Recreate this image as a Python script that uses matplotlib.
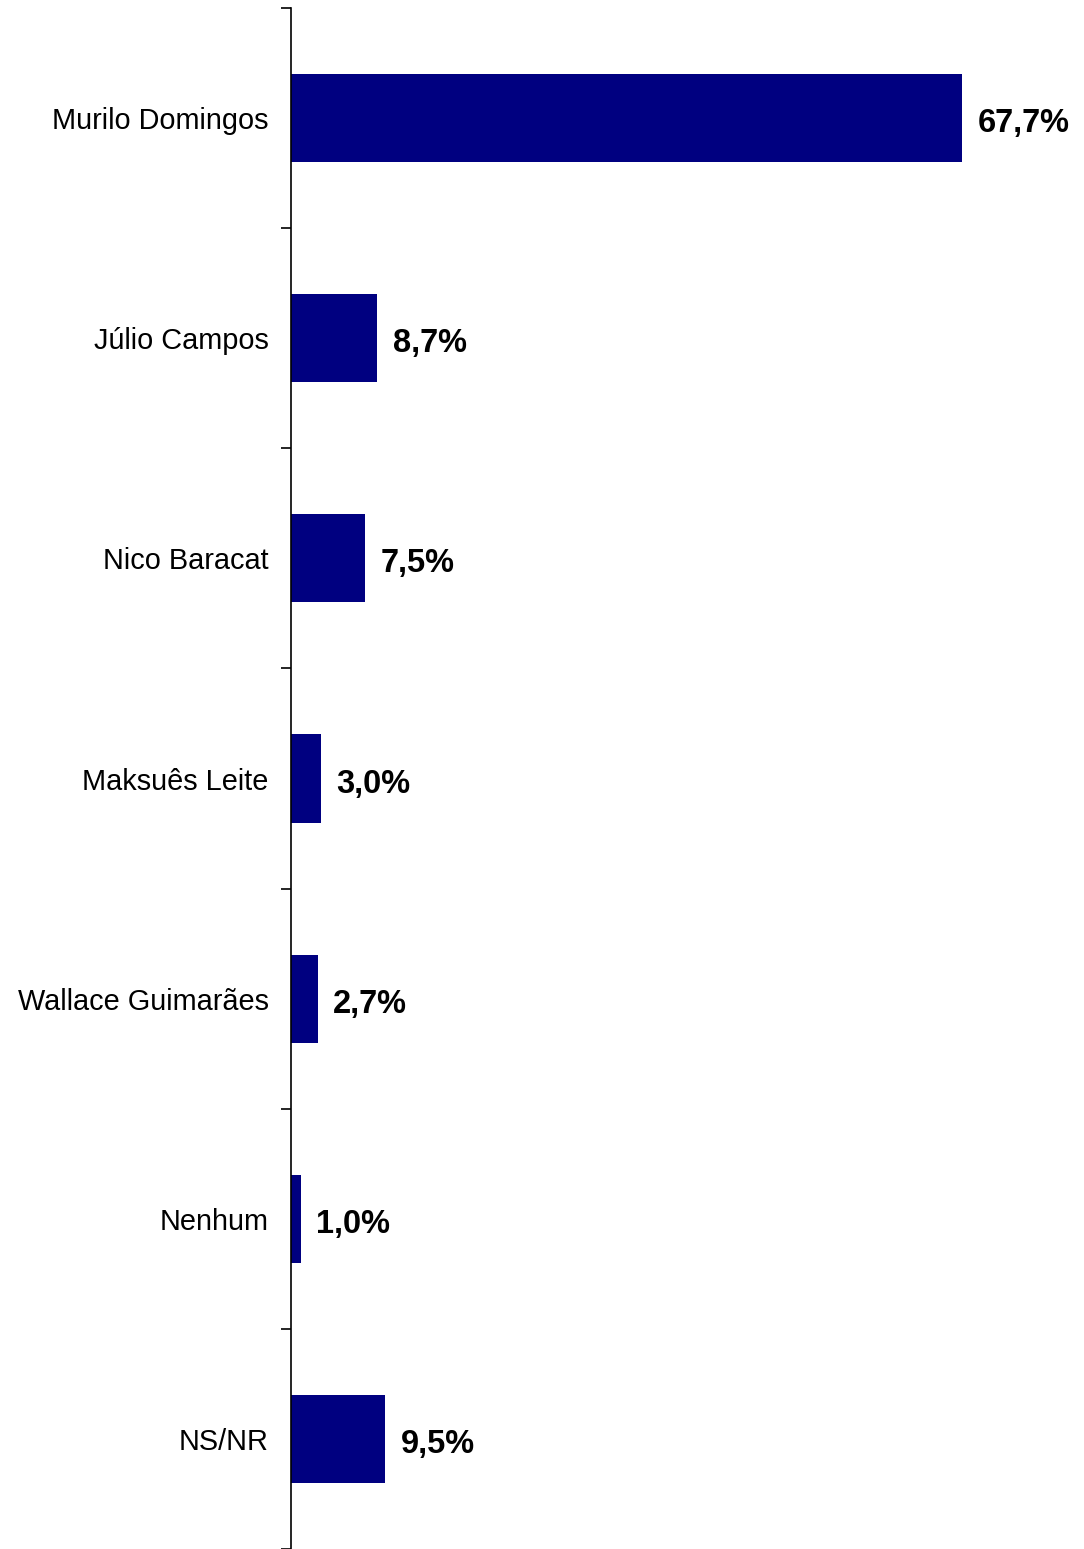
import numpy as np
import matplotlib.pyplot as plt

plt.rcParams['font.family'] = ['Liberation Sans', 'DejaVu Sans']

candidates = ['Murilo Domingos', 'Júlio Campos', 'Nico Baracat', 'Maksuês Leite',
              'Wallace Guimarães', 'Nenhum', 'NS/NR']
values = [67.7, 8.7, 7.5, 3.0, 2.7, 1.0, 9.5]
value_labels = ['67,7%', '8,7%', '7,5%', '3,0%', '2,7%', '1,0%', '9,5%']

fig = plt.figure(figsize=(10.84, 15.49), dpi=100)
ax = fig.add_axes([291 / 1084, 0.0, 1 - 291 / 1084, 1 - 8 / 1549])

y = np.arange(len(candidates))
ax.barh(y, values, height=0.4, color='#000080')
ax.set_ylim(len(candidates) - 0.5, -0.5)
ax.set_xlim(0, 80)

for yi, v, lab in zip(y, values, value_labels):
    ax.annotate(lab, (v, yi), xytext=(11, -4), textcoords='offset points',
                ha='left', va='center', fontsize=23.5, fontweight='bold')

# category labels
ax.set_yticks(y)
ax.set_yticklabels(candidates, fontsize=20.8)
ax.tick_params(axis='y', which='major', length=0, pad=16)
ax.set_yticks(np.arange(-0.5, len(candidates), 1.0), minor=True)
ax.tick_params(axis='y', which='minor', length=7, width=1.2, direction='out')

ax.set_xticks([])
for s in ['top', 'right', 'bottom']:
    ax.spines[s].set_visible(False)
ax.spines['left'].set_linewidth(1.2)

fig.savefig('out.png', dpi=100)
